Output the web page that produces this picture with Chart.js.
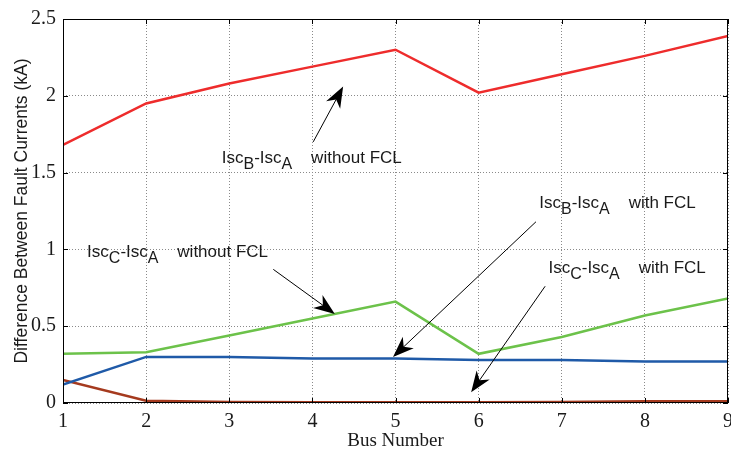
<!DOCTYPE html>
<html><head><meta charset="utf-8">
<script src="https://cdn.jsdelivr.net/npm/chart.js@4/dist/chart.umd.min.js"></script>
<style>html,body{margin:0;padding:0;background:#fff}#wrap{width:731px;height:452px}</style>
</head><body><div id="wrap"><canvas id="c" width="731" height="452"></canvas></div>
<script>
const buses = [1,2,3,4,5,6,7,8,9];
const bWithout = [1.68,1.95,2.08,2.19,2.30,2.02,2.14,2.26,2.39];
const cWithout = [0.32,0.33,0.44,0.55,0.66,0.32,0.43,0.57,0.68];
const bWith = [0.12,0.30,0.30,0.29,0.29,0.28,0.28,0.27,0.27];
const cWith = [0.15,0.015,0.006,0.005,0.005,0.005,0.006,0.012,0.012];
const yTicks = [0,0.5,1,1.5,2,2.5];
const yTickLabels = ['0','0.5','1','1.5','2','2.5'];
// annotations: [sub1, sub2, suffix, textX, textY, tailX, tailY, tipX, tipY] in data units
const notes = [
  ['B','A','without FCL',2.91,1.56,4.01,1.70,4.37,2.06],
  ['C','A','without FCL',1.29,0.95,3.53,0.87,4.27,0.58],
  ['B','A','with FCL',6.73,1.27,6.69,1.18,4.97,0.30],
  ['C','A','with FCL',6.84,0.845,6.80,0.76,5.91,0.07]
];
const pts = a => buses.map((x,i)=>({x, y:a[i]}));

const frame = {
  id:'frame',
  afterDraw(chart){
    const {ctx, chartArea:a, scales:{x,y}} = chart;
    ctx.save();
    ctx.strokeStyle='#000'; ctx.lineWidth=1;
    ctx.strokeRect(a.left+0.5,a.top+0.5,a.right-a.left-1,a.bottom-a.top-1);
    ctx.beginPath();
    buses.forEach(v=>{const px=Math.round(x.getPixelForValue(v))+0.5;
      ctx.moveTo(px,a.bottom);ctx.lineTo(px,a.bottom-5);ctx.moveTo(px,a.top);ctx.lineTo(px,a.top+5);});
    yTicks.forEach(v=>{const py=Math.round(y.getPixelForValue(v))+0.5;
      ctx.moveTo(a.left,py);ctx.lineTo(a.left+5,py);ctx.moveTo(a.right,py);ctx.lineTo(a.right-5,py);});
    ctx.stroke();
    // annotations
    notes.forEach(n=>{
      const [s1,s2,suf,tx,ty,ax,ay,bx,by]=n;
      let px=x.getPixelForValue(tx), py=y.getPixelForValue(ty);
      ctx.fillStyle='#1a1a1a'; ctx.textBaseline='alphabetic'; ctx.textAlign='left';
      const big='17px "Liberation Sans", Arial, sans-serif', small='16px "Liberation Sans", Arial, sans-serif';
      const parts=[['Isc',big,0],[s1,small,6],['-Isc',big,0],[s2,small,6],['    '+suf,big,0]];
      parts.forEach(([t,f,dy])=>{ctx.font=f;ctx.fillText(t,px,py+dy);px+=ctx.measureText(t).width;});
      const x0=x.getPixelForValue(ax), y0=y.getPixelForValue(ay), x1=x.getPixelForValue(bx), y1=y.getPixelForValue(by);
      const ang=Math.atan2(y1-y0,x1-x0), L=21, W=8;
      ctx.strokeStyle='#000'; ctx.lineWidth=1;
      ctx.beginPath(); ctx.moveTo(x0,y0); ctx.lineTo(x1-Math.cos(ang)*12,y1-Math.sin(ang)*12); ctx.stroke();
      const c=Math.cos(ang), s=Math.sin(ang);
      ctx.fillStyle='#000'; ctx.beginPath();
      ctx.moveTo(x1,y1);
      ctx.lineTo(x1-L*c+W*s, y1-L*s-W*c);
      ctx.lineTo(x1-L*0.7*c, y1-L*0.7*s);
      ctx.lineTo(x1-L*c-W*s, y1-L*s+W*c);
      ctx.closePath(); ctx.fill();
    });
    ctx.restore();
  }
};

const ds = (data,color)=>({data:pts(data),borderColor:color,borderWidth:2.5,pointRadius:0,fill:false,tension:0});
new Chart(document.getElementById('c'),{
  type:'line',
  data:{datasets:[ds(bWithout,'#ee2c2c'),ds(cWithout,'#6cc24a'),ds(bWith,'#1f5aa8'),ds(cWith,'#a53a1e')]},
  options:{
    responsive:false,animation:false,
    layout:{padding:{left:0,right:3,top:17,bottom:0}},
    plugins:{legend:{display:false},tooltip:{enabled:false}},
    scales:{
      x:{type:'linear',min:1,max:9,
        afterBuildTicks(s){s.ticks=buses.map(v=>({value:v}));},
        afterFit(s){s.height=49;s.paddingLeft=0;s.paddingRight=0;},
        grid:{color:'#8a8a8a',lineWidth:1,drawTicks:false,tickLength:0},
        border:{display:false,dash:[1,2]},
        ticks:{padding:7,color:'#1a1a1a',maxRotation:0,autoSkip:false,font:{family:'"Liberation Serif", serif',size:20}},
        title:{display:true,text:'Bus Number',color:'#1a1a1a',padding:{top:0,bottom:0},font:{family:'"Liberation Serif", serif',size:19}}
      },
      y:{min:0,max:2.5,
        afterBuildTicks(s){s.ticks=yTicks.map(v=>({value:v}));},
        afterFit(s){s.width=63;},
        grid:{color:'#8a8a8a',lineWidth:1,drawTicks:false,tickLength:0},
        border:{display:false,dash:[1,2]},
        ticks:{padding:7,color:'#1a1a1a',callback:(v)=>yTickLabels[yTicks.indexOf(v)] ?? '',font:{family:'"Liberation Serif", serif',size:20}},
        title:{display:true,text:'Difference Between Fault Currents (kA)',color:'#1a1a1a',padding:{top:12,bottom:0},font:{family:'"Liberation Sans", Arial, sans-serif',size:17.5}}
      }
    }
  },
  plugins:[frame]
});
</script></body></html>
